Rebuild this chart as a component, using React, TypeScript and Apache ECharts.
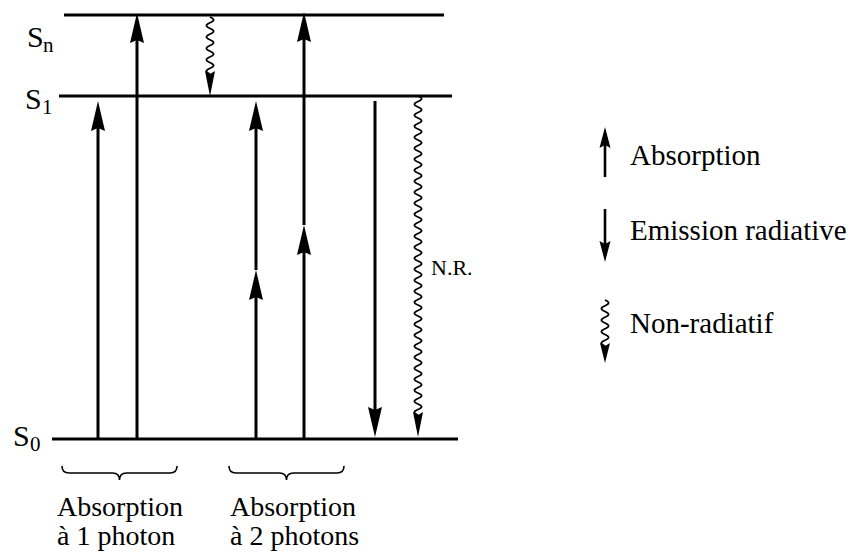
import React, { useEffect, useRef } from "react";
import * as echarts from "echarts";

// ---- data ----
const levelSymbols = ["S", "S", "S"];
const levelSubscripts = ["0", "1", "n"];
const levelEnergies = [0, 3.43, 4.24];

const transitionKinds = [
  "absorption",
  "absorption",
  "nonRadiative",
  "absorption",
  "absorption",
  "absorption",
  "absorption",
  "emission",
  "nonRadiative",
];
const transitionFrom = [0, 0, 4.24, 0, 1.69, 0, 2.14, 3.43, 3.43];
const transitionTo = [3.43, 4.24, 3.43, 1.69, 3.43, 2.14, 4.24, 0, 0];
const transitionNotes = ["", "", "", "", "", "", "", "", "N.R."];

const groupLine1 = ["Absorption", "Absorption"];
const groupLine2 = ["à 1 photon", "à 2 photons"];

const legendKinds = ["absorption", "emission", "nonRadiative"];
const legendLabels = ["Absorption", "Emission radiative", "Non-radiatif"];

// ---- layout (pixels) ----
const LEVEL_X0 = [52, 59, 64];
const LEVEL_X1 = [458, 452, 444];
const LEVEL_LABEL_X = [13, 25, 27];
const LEVEL_SUB_X = [30, 42, 43];
const LEVEL_LABEL_DY = [-4, 2, 21];
const TRANSITION_X = [98, 137, 210, 256, 256, 304, 304, 375, 418];
const TRANSITION_START_GAP = [0, 0, 2, 0, 0, 0, 0, 5, 0];
const TRANSITION_END_GAP = [5, -2, 0, 0, 5, 0, -3, 2, 2];
const BRACE_X0 = [62, 229];
const BRACE_X1 = [177, 344];
const GROUP_LABEL_X = [57, 230];
const LEGEND_X = 605;
const LEGEND_TEXT_X = 630;
const LEGEND_TOP = [127, 209, 300];
const LEGEND_BOTTOM = [177, 262, 363];
const LEGEND_TEXT_Y = [155, 230, 323];

const INK = "#000";
const SERIF = "Liberation Serif";

function head(cx: number, tipY: number, dir: number, L: number, W: number, N: number) {
  return {
    type: "polygon",
    shape: {
      points: [
        [cx, tipY],
        [cx - W, tipY - dir * L],
        [cx, tipY - dir * (L - N)],
        [cx + W, tipY - dir * L],
      ],
    },
    style: { fill: INK, stroke: null },
  };
}

function wave(cx: number, y0: number, y1: number, A: number, lambda: number, lw: number) {
  const len = Math.abs(y1 - y0);
  const dir = y1 > y0 ? 1 : -1;
  const n = Math.max(1, Math.round(len / (lambda / 2)));
  const lam = (2 * len) / n;
  const pts: number[][] = [];
  for (let t = 0; t <= len + 0.001; t += 0.5) {
    pts.push([cx + A * Math.sin((2 * Math.PI * t) / lam), y0 + dir * t]);
  }
  return {
    type: "polyline",
    shape: { points: pts },
    style: { stroke: INK, fill: "none", lineWidth: lw },
  };
}

function arrowParts(kind: string, cx: number, y0: number, tipY: number, scale: "main" | "legend") {
  const dir = tipY > y0 ? 1 : -1;
  const parts: any[] = [];
  if (kind === "nonRadiative") {
    const L = scale === "main" ? 25 : 20;
    const W = 5;
    const endWave = tipY - dir * (L - 3);
    parts.push(wave(cx, y0, endWave, 3.6, 11, 1.7));
    parts.push(head(cx, tipY, dir, L, W, 3));
  } else {
    const L = scale === "main" ? 30 : 21;
    const W = scale === "main" ? 7 : 5.5;
    const N = 3;
    const lw = scale === "main" ? 3 : 2.6;
    parts.push({
      type: "line",
      shape: { x1: cx, y1: y0, x2: cx, y2: tipY - dir * (L - N) },
      style: { stroke: INK, lineWidth: lw },
    });
    parts.push(head(cx, tipY, dir, L, W, N));
  }
  return parts;
}

// text centred vertically on yMid (default top alignment, shifted by half the size)
function txt(text: string, x: number, yMid: number, size: number) {
  return {
    type: "text",
    x,
    y: yMid - size / 2,
    style: {
      text,
      fontSize: size,
      fontFamily: SERIF,
      fill: INK,
    },
  };
}

export default function App() {
  const ref = useRef<HTMLDivElement>(null);
  useEffect(() => {
    if (!ref.current) return;
    const chart = echarts.init(ref.current, null, { renderer: "svg" });

    const legendGraphics: any[] = [];
    legendKinds.forEach((k, i) => {
      const up = k === "absorption";
      const y0 = up ? LEGEND_BOTTOM[i] : LEGEND_TOP[i];
      const tip = up ? LEGEND_TOP[i] : LEGEND_BOTTOM[i];
      arrowParts(k, LEGEND_X, y0, tip, "legend").forEach((p) => legendGraphics.push(p));
      legendGraphics.push(txt(legendLabels[i], LEGEND_TEXT_X, LEGEND_TEXT_Y[i], 29));
    });

    const option: any = {
      animation: false,
      textStyle: { fontFamily: SERIF },
      grid: { left: 0, right: 0, top: 15, bottom: 113 },
      xAxis: { type: "value", min: 0, max: 852, show: false },
      yAxis: { type: "value", min: 0, max: 4.24, show: false },
      graphic: legendGraphics,
      series: [
        {
          type: "custom",
          name: "levels",
          clip: false,
          data: levelEnergies.map((e, i) => [i, e]),
          renderItem: (params: any, api: any) => {
            const i = params.dataIndex;
            const e = api.value(1);
            const a = api.coord([LEVEL_X0[i], e]);
            const b = api.coord([LEVEL_X1[i], e]);
            const ly = a[1] + LEVEL_LABEL_DY[i];
            return {
              type: "group",
              children: [
                {
                  type: "line",
                  shape: { x1: a[0], y1: a[1], x2: b[0], y2: b[1] },
                  style: { stroke: INK, lineWidth: 3 },
                },
                txt(levelSymbols[i], LEVEL_LABEL_X[i], ly, 30),
                txt(levelSubscripts[i], LEVEL_SUB_X[i], ly + 9, 21),
              ],
            };
          },
        },
        {
          type: "custom",
          name: "transitions",
          clip: false,
          data: TRANSITION_X.map((x, i) => [x, transitionFrom[i], transitionTo[i]]),
          renderItem: (params: any, api: any) => {
            const i = params.dataIndex;
            const x = api.value(0);
            const p0 = api.coord([x, api.value(1)]);
            const p1 = api.coord([x, api.value(2)]);
            const dir = p1[1] > p0[1] ? 1 : -1;
            const y0 = p0[1] + dir * TRANSITION_START_GAP[i];
            const tip = p1[1] - dir * TRANSITION_END_GAP[i];
            const children: any[] = arrowParts(transitionKinds[i], p0[0], y0, tip, "main");
            if (transitionNotes[i]) {
              children.push(txt(transitionNotes[i], p0[0] + 13, (p0[1] + p1[1]) / 2, 22));
            }
            return { type: "group", children };
          },
        },
        {
          type: "custom",
          name: "groups",
          clip: false,
          data: groupLine1.map((_, i) => [i, 0]),
          renderItem: (params: any, api: any) => {
            const i = params.dataIndex;
            const base = api.coord([BRACE_X0[i], api.value(1)]);
            const x0 = BRACE_X0[i];
            const x1 = BRACE_X1[i];
            const xm = (x0 + x1) / 2;
            const yt = base[1] + 27;
            const yh = base[1] + 34;
            const yc = base[1] + 41;
            const r = 7;
            const d =
              `M${x0} ${yt} Q${x0} ${yh} ${x0 + r} ${yh} L${xm - r} ${yh} ` +
              `Q${xm} ${yh} ${xm} ${yc} Q${xm} ${yh} ${xm + r} ${yh} ` +
              `L${x1 - r} ${yh} Q${x1} ${yh} ${x1} ${yt}`;
            return {
              type: "group",
              children: [
                {
                  type: "path",
                  shape: { pathData: d },
                  style: { stroke: INK, fill: "none", lineWidth: 1.6 },
                },
                txt(groupLine1[i], GROUP_LABEL_X[i], base[1] + 67, 28),
                txt(groupLine2[i], GROUP_LABEL_X[i], base[1] + 96, 28),
              ],
            };
          },
        },
      ],
    };
    chart.setOption(option);
    return () => chart.dispose();
  }, []);
  return (
    <>
      <style>{`#jablonski svg text, #jablonski svg tspan { font-family: 'Liberation Serif', 'Times New Roman', serif !important; }`}</style>
      <div
        id="jablonski"
        ref={ref}
        style={{
          position: "absolute",
          left: 0,
          top: 0,
          width: 852,
          height: 552,
          background: "#fff",
          fontFamily: "'Liberation Serif', serif",
        }}
      />
    </>
  );
}
